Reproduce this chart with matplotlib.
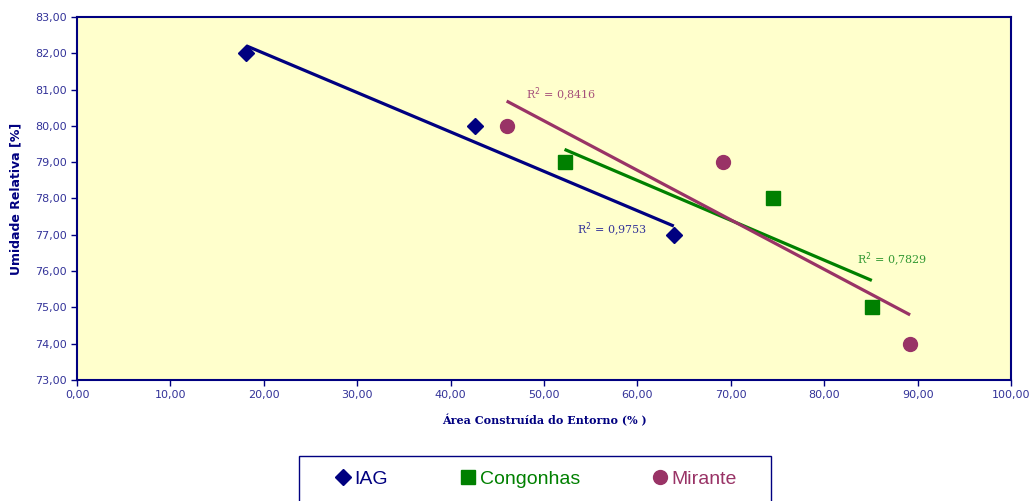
import numpy as np
import matplotlib
matplotlib.use("Agg")
import matplotlib.pyplot as plt
from matplotlib.ticker import FuncFormatter
from matplotlib.patches import Rectangle

# data
iag_x = [18.1, 42.6, 63.9]
iag_y = [82.0, 80.0, 77.0]
cong_x = [52.2, 74.5, 85.1]
cong_y = [79.0, 78.0, 75.0]
mir_x = [46.0, 69.2, 89.2]
mir_y = [80.0, 79.0, 74.0]

series_names = ["IAG", "Congonhas", "Mirante"]
r2_labels = ["R$^2$ = 0,9753", "R$^2$ = 0,7829", "R$^2$ = 0,8416"]

navy = "#000080"
green = "#008000"
plum = "#993366"
tick_col = "#333399"

fig = plt.figure(figsize=(10.34, 5.01), dpi=100)
ax = fig.add_axes([77/1034, 1-380/501, (1011-77)/1034, (380-17)/501])
ax.set_facecolor("#FFFFCC")

series = [
    (iag_x, iag_y, navy, "D", 8),
    (cong_x, cong_y, green, "s", 9.5),
    (mir_x, mir_y, plum, "o", 10),
]

for (xs, ys, col, mk, ms), name in zip(series, series_names):
    ax.plot(xs, ys, linestyle="none", marker=mk, color=col, markersize=ms,
            label=name, zorder=3)
    # linear trendline over the data range
    k, b = np.polyfit(xs, ys, 1)
    xt = np.array([min(xs), max(xs)])
    ax.plot(xt, k*xt + b, color=col, lw=2.3, solid_capstyle="butt", zorder=2)

# R² labels
lab_font = dict(family="DejaVu Serif", fontsize=8)
ax.text(53.5, 77.03, r2_labels[0], color=tick_col, **lab_font)
ax.text(83.5, 76.2, r2_labels[1], color="#339933", **lab_font)
ax.text(48.1, 80.75, r2_labels[2], color="#a6507a", **lab_font)

ax.set_xlim(0, 100)
ax.set_ylim(73, 83)
ax.set_xticks(np.arange(0, 101, 10))
ax.set_yticks(np.arange(73, 84, 1))
fmt = FuncFormatter(lambda v, p: ("%.2f" % v).replace(".", ","))
ax.xaxis.set_major_formatter(fmt)
ax.yaxis.set_major_formatter(fmt)
ax.tick_params(colors=navy, labelcolor=tick_col, labelsize=8, length=4, width=1)
for lbl in ax.get_xticklabels() + ax.get_yticklabels():
    lbl.set_family("DejaVu Sans")

for s in ax.spines.values():
    s.set_color(navy)
    s.set_linewidth(1.5)

ax.set_xlabel("Área Construída do Entorno (% )", family="DejaVu Serif",
              fontweight="bold", fontsize=8, color=navy, labelpad=10)
ax.set_ylabel("Umidade Relativa [%]", family="DejaVu Sans", fontweight="bold",
              fontsize=9, color=navy, labelpad=9)

leg = fig.legend(loc="upper center", bbox_to_anchor=(535/1034, 1-453/501),
                 ncol=3, frameon=False,
                 prop=dict(family="Liberation Sans", size=14),
                 handletextpad=0.1, handlelength=1.0, columnspacing=3.6,
                 borderpad=0.9, borderaxespad=0)
for t, c in zip(leg.get_texts(), [navy, green, plum]):
    t.set_color(c)

# legend frame, runs past the bottom edge as in the original
fig.patches.append(Rectangle((299/1034, -0.05), (771-299)/1034, 0.05+1-456/501,
                             transform=fig.transFigure, fill=False,
                             edgecolor=navy, lw=1.0))

fig.savefig("out.png", dpi=100)
